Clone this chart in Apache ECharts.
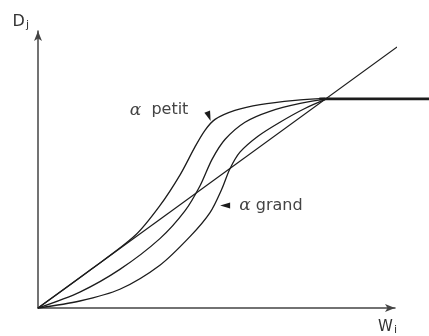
<!DOCTYPE html>
<html>
<head>
<meta charset="utf-8">
<script src="https://cdn.jsdelivr.net/npm/echarts@6/dist/echarts.min.js"></script>
<style>
  html, body { margin: 0; padding: 0; background: #fff; }
  #chart { width: 429px; height: 336px; }
</style>
</head>
<body>
<div id="chart"></div>
<script>
// valeurs (unités arbitraires, 0..99 sur chaque axe)
const diagonale = [[0, 0], [99.6, 93.3]]
const alphaPetit = [[0, 0], [14.4, 13.5], [26.9, 25.9], [33.8, 36.6], [39.4, 47.6], [43.5, 57.5],
  [46.3, 63.5], [49.1, 67.4], [54.6, 70.6], [61.6, 72.7], [71.3, 74.2], [79.6, 74.9]]
const alphaMoyen = [[0, 0], [11.6, 5.7], [22.7, 13.8], [33.8, 24.8], [40.8, 34.8], [44.9, 43.6],
  [48.3, 53.2], [51.9, 60.3], [57.4, 66.4], [64.3, 70.3], [72.7, 73.1], [81.0, 74.9]]
const alphaGrand = [[0, 0], [11.6, 2.5], [22.7, 6.7], [33.8, 15.3], [42.2, 25.6], [47.7, 34.1],
  [51.0, 42.6], [53.2, 49.7], [56.0, 55.7], [61.0, 61.4], [67.1, 66.4], [74.0, 71.3], [80.4, 74.9]]
const palier = [[78, 74.9], [108.4, 74.9]]
const notePetit = [47.4, 68.5]
const noteGrand = [51.9, 36.6]

const ink = '#1c1c1c'
const font = 'DejaVu Sans'

function courbe(data, smooth) {
  return {
    type: 'line',
    data: data,
    symbol: 'none',
    smooth: smooth,
    clip: false,
    lineStyle: { color: ink, width: 1.3 }
  }
}

const labelRich = {
  a: { fontFamily: 'DejaVu Serif', fontStyle: 'italic', fontSize: 17, color: '#444' }
}

const hidden = { show: false }

const option = {
  animation: false,
  grid: [
    { left: 38, right: 34, top: 31, bottom: 26 },
    // même échelle, prolongée jusqu'au bord droit pour le palier
    { left: 38, right: 0, top: 31, bottom: 26 }
  ],
  xAxis: [{
    type: 'value', min: 0, max: 99,
    name: 'W{s|i}',
    nameLocation: 'end',
    nameGap: 2,
    nameTextStyle: {
      fontFamily: font, fontSize: 15, color: '#333', align: 'right', verticalAlign: 'top',
      padding: [10, 0, 0, 0],
      rich: { s: { fontFamily: font, fontSize: 11, color: '#333', padding: [7, 0, 0, 1] } }
    },
    axisLine: { lineStyle: { color: '#444', width: 1.5 }, symbol: ['none', 'arrow'], symbolSize: [6, 10] },
    axisTick: { show: false }, axisLabel: { show: false }, splitLine: { show: false }
  }, {
    type: 'value', gridIndex: 1, min: 0, max: 108.4,
    axisLine: hidden, axisTick: hidden, axisLabel: hidden, splitLine: hidden
  }],
  yAxis: [{
    type: 'value', min: 0, max: 99,
    name: 'D{s|j}',
    nameLocation: 'end',
    nameGap: 0,
    nameTextStyle: {
      fontFamily: font, fontSize: 16, color: '#333', align: 'right', verticalAlign: 'bottom',
      padding: [0, 9, 0, 0],
      rich: { s: { fontFamily: font, fontSize: 11, color: '#333', padding: [7, 0, 0, 1] } }
    },
    axisLine: { lineStyle: { color: '#444', width: 1.5 }, symbol: ['none', 'arrow'], symbolSize: [6, 10] },
    axisTick: { show: false }, axisLabel: { show: false }, splitLine: { show: false }
  }, {
    type: 'value', gridIndex: 1, min: 0, max: 99,
    axisLine: hidden, axisTick: hidden, axisLabel: hidden, splitLine: hidden
  }],
  series: [
    courbe(diagonale, false),
    Object.assign(courbe(alphaPetit, 0.3), {
      markPoint: {
        symbol: 'triangle', symbolSize: [6, 10], symbolRotate: 200,
        itemStyle: { color: ink },
        label: {
          show: true, position: 'left', distance: 16, offset: [0, -6],
          formatter: '{a|α}  petit', fontFamily: font, fontSize: 16, color: '#444', rich: labelRich
        },
        data: [{ coord: notePetit }]
      }
    }),
    courbe(alphaMoyen, 0.3),
    Object.assign(courbe(alphaGrand, 0.3), {
      markPoint: {
        symbol: 'triangle', symbolSize: [6, 10], symbolRotate: 90,
        itemStyle: { color: ink },
        label: {
          show: true, position: 'right', distance: 9,
          formatter: '{a|α} grand', fontFamily: font, fontSize: 16, color: '#444', rich: labelRich
        },
        data: [{ coord: noteGrand }]
      }
    }),
    Object.assign(courbe(palier, false), {
      xAxisIndex: 1, yAxisIndex: 1,
      lineStyle: { color: ink, width: 2.6 }
    })
  ]
}

const myChart = echarts.init(document.getElementById('chart'))
myChart.setOption(option)
</script>
</body>
</html>
